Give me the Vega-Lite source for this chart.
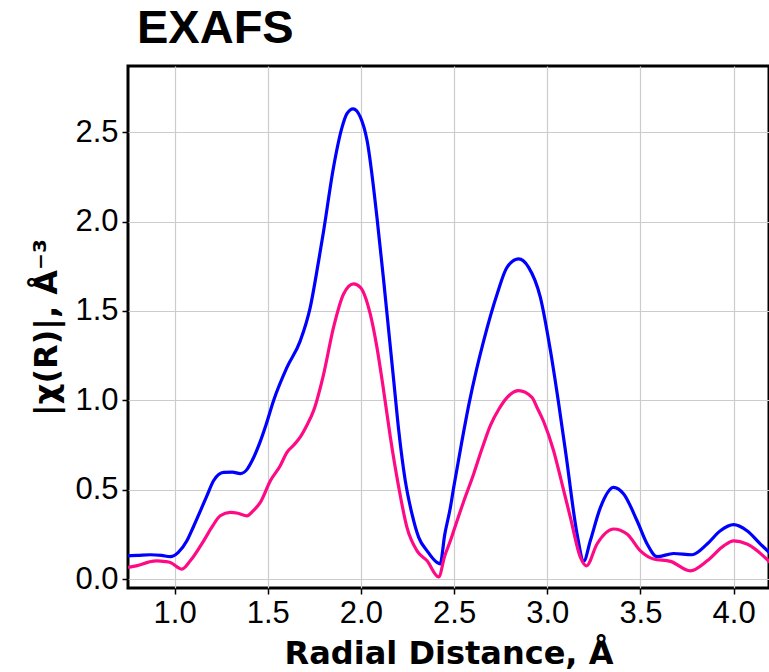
{
  "$schema": "https://vega.github.io/schema/vega-lite/v6.json",
  "autosize": {"type": "none"},
  "padding": {"left": 128, "top": 66, "right": 0, "bottom": 84},
  "width": 641,
  "height": 522,
  "background": "white",
  "title": {
    "text": "EXAFS",
    "anchor": "start",
    "frame": "group",
    "font": "Liberation Sans",
    "fontSize": 47,
    "fontWeight": "bold",
    "color": "#000",
    "offset": 13,
    "dx": 9
  },
  "config": {
    "view": {"stroke": "#000", "strokeWidth": 3},
    "axis": {
      "domain": false,
      "grid": true,
      "gridColor": "#cccccc",
      "gridWidth": 1.2,
      "tickColor": "#000",
      "tickSize": 6,
      "tickWidth": 1.5,
      "labelFont": "Liberation Sans",
      "labelFontSize": 31,
      "labelColor": "#000",
      "titleFont": "DejaVu Sans",
      "titleFontWeight": "bold",
      "titleColor": "#000"
    }
  },
  "data": {
    "values": [
      {"s": "a", "r": 0.75, "v": 0.13},
      {"s": "a", "r": 0.8, "v": 0.132},
      {"s": "a", "r": 0.87, "v": 0.136},
      {"s": "a", "r": 0.93, "v": 0.132},
      {"s": "a", "r": 0.977, "v": 0.125},
      {"s": "a", "r": 1.02, "v": 0.149},
      {"s": "a", "r": 1.066, "v": 0.214},
      {"s": "a", "r": 1.1, "v": 0.29},
      {"s": "a", "r": 1.138, "v": 0.38},
      {"s": "a", "r": 1.175, "v": 0.47},
      {"s": "a", "r": 1.209, "v": 0.55},
      {"s": "a", "r": 1.263, "v": 0.597},
      {"s": "a", "r": 1.31, "v": 0.598},
      {"s": "a", "r": 1.353, "v": 0.59},
      {"s": "a", "r": 1.39, "v": 0.615},
      {"s": "a", "r": 1.415, "v": 0.66},
      {"s": "a", "r": 1.46, "v": 0.77},
      {"s": "a", "r": 1.49, "v": 0.86},
      {"s": "a", "r": 1.531, "v": 0.998},
      {"s": "a", "r": 1.603, "v": 1.184},
      {"s": "a", "r": 1.675, "v": 1.334},
      {"s": "a", "r": 1.728, "v": 1.52},
      {"s": "a", "r": 1.773, "v": 1.78},
      {"s": "a", "r": 1.8, "v": 1.949},
      {"s": "a", "r": 1.853, "v": 2.304},
      {"s": "a", "r": 1.899, "v": 2.528},
      {"s": "a", "r": 1.925, "v": 2.603},
      {"s": "a", "r": 1.958, "v": 2.63},
      {"s": "a", "r": 1.997, "v": 2.584},
      {"s": "a", "r": 2.033, "v": 2.453},
      {"s": "a", "r": 2.086, "v": 2.024},
      {"s": "a", "r": 2.122, "v": 1.67},
      {"s": "a", "r": 2.149, "v": 1.39},
      {"s": "a", "r": 2.176, "v": 1.11},
      {"s": "a", "r": 2.203, "v": 0.83},
      {"s": "a", "r": 2.238, "v": 0.55},
      {"s": "a", "r": 2.274, "v": 0.364},
      {"s": "a", "r": 2.31, "v": 0.233},
      {"s": "a", "r": 2.355, "v": 0.158},
      {"s": "a", "r": 2.408, "v": 0.093},
      {"s": "a", "r": 2.425, "v": 0.085},
      {"s": "a", "r": 2.45, "v": 0.25},
      {"s": "a", "r": 2.48, "v": 0.4},
      {"s": "a", "r": 2.498, "v": 0.513},
      {"s": "a", "r": 2.54, "v": 0.76},
      {"s": "a", "r": 2.58, "v": 0.98},
      {"s": "a", "r": 2.62, "v": 1.17},
      {"s": "a", "r": 2.659, "v": 1.334},
      {"s": "a", "r": 2.731, "v": 1.595},
      {"s": "a", "r": 2.784, "v": 1.744},
      {"s": "a", "r": 2.846, "v": 1.791},
      {"s": "a", "r": 2.9, "v": 1.744},
      {"s": "a", "r": 2.963, "v": 1.576},
      {"s": "a", "r": 3.017, "v": 1.278},
      {"s": "a", "r": 3.06, "v": 0.99},
      {"s": "a", "r": 3.1, "v": 0.7},
      {"s": "a", "r": 3.16, "v": 0.252},
      {"s": "a", "r": 3.196, "v": 0.1},
      {"s": "a", "r": 3.231, "v": 0.214},
      {"s": "a", "r": 3.285, "v": 0.4},
      {"s": "a", "r": 3.356, "v": 0.513},
      {"s": "a", "r": 3.41, "v": 0.476},
      {"s": "a", "r": 3.482, "v": 0.326},
      {"s": "a", "r": 3.536, "v": 0.196},
      {"s": "a", "r": 3.589, "v": 0.125},
      {"s": "a", "r": 3.678, "v": 0.143},
      {"s": "a", "r": 3.777, "v": 0.136},
      {"s": "a", "r": 3.858, "v": 0.196},
      {"s": "a", "r": 3.929, "v": 0.27},
      {"s": "a", "r": 4.0, "v": 0.304},
      {"s": "a", "r": 4.072, "v": 0.27},
      {"s": "a", "r": 4.144, "v": 0.196},
      {"s": "a", "r": 4.2, "v": 0.14},
      {"s": "b", "r": 0.75, "v": 0.065},
      {"s": "b", "r": 0.8, "v": 0.075},
      {"s": "b", "r": 0.86, "v": 0.095},
      {"s": "b", "r": 0.905, "v": 0.102},
      {"s": "b", "r": 0.95, "v": 0.098},
      {"s": "b", "r": 0.977, "v": 0.093},
      {"s": "b", "r": 1.04, "v": 0.056},
      {"s": "b", "r": 1.084, "v": 0.102},
      {"s": "b", "r": 1.156, "v": 0.214},
      {"s": "b", "r": 1.2, "v": 0.29},
      {"s": "b", "r": 1.245, "v": 0.354},
      {"s": "b", "r": 1.299, "v": 0.373},
      {"s": "b", "r": 1.34, "v": 0.368},
      {"s": "b", "r": 1.389, "v": 0.354},
      {"s": "b", "r": 1.42, "v": 0.38},
      {"s": "b", "r": 1.46, "v": 0.429},
      {"s": "b", "r": 1.514, "v": 0.55},
      {"s": "b", "r": 1.567, "v": 0.634},
      {"s": "b", "r": 1.603, "v": 0.709},
      {"s": "b", "r": 1.64, "v": 0.75},
      {"s": "b", "r": 1.675, "v": 0.795},
      {"s": "b", "r": 1.71, "v": 0.86},
      {"s": "b", "r": 1.746, "v": 0.942},
      {"s": "b", "r": 1.8, "v": 1.147},
      {"s": "b", "r": 1.853, "v": 1.408},
      {"s": "b", "r": 1.907, "v": 1.595},
      {"s": "b", "r": 1.961, "v": 1.651},
      {"s": "b", "r": 1.997, "v": 1.632},
      {"s": "b", "r": 2.05, "v": 1.483},
      {"s": "b", "r": 2.086, "v": 1.296},
      {"s": "b", "r": 2.122, "v": 1.054},
      {"s": "b", "r": 2.158, "v": 0.793},
      {"s": "b", "r": 2.203, "v": 0.513},
      {"s": "b", "r": 2.247, "v": 0.289},
      {"s": "b", "r": 2.301, "v": 0.158},
      {"s": "b", "r": 2.355, "v": 0.102},
      {"s": "b", "r": 2.417, "v": 0.012},
      {"s": "b", "r": 2.45, "v": 0.13},
      {"s": "b", "r": 2.48, "v": 0.214},
      {"s": "b", "r": 2.498, "v": 0.27},
      {"s": "b", "r": 2.55, "v": 0.43},
      {"s": "b", "r": 2.605, "v": 0.588},
      {"s": "b", "r": 2.65, "v": 0.73},
      {"s": "b", "r": 2.695, "v": 0.86},
      {"s": "b", "r": 2.74, "v": 0.95},
      {"s": "b", "r": 2.784, "v": 1.015},
      {"s": "b", "r": 2.846, "v": 1.054},
      {"s": "b", "r": 2.918, "v": 1.016},
      {"s": "b", "r": 2.945, "v": 0.96},
      {"s": "b", "r": 2.981, "v": 0.88},
      {"s": "b", "r": 3.034, "v": 0.718},
      {"s": "b", "r": 3.08, "v": 0.53},
      {"s": "b", "r": 3.124, "v": 0.345},
      {"s": "b", "r": 3.178, "v": 0.121},
      {"s": "b", "r": 3.21, "v": 0.074},
      {"s": "b", "r": 3.267, "v": 0.196},
      {"s": "b", "r": 3.356, "v": 0.28},
      {"s": "b", "r": 3.428, "v": 0.252},
      {"s": "b", "r": 3.5, "v": 0.158},
      {"s": "b", "r": 3.571, "v": 0.112},
      {"s": "b", "r": 3.661, "v": 0.099},
      {"s": "b", "r": 3.768, "v": 0.046},
      {"s": "b", "r": 3.858, "v": 0.102},
      {"s": "b", "r": 3.947, "v": 0.186},
      {"s": "b", "r": 4.0, "v": 0.214},
      {"s": "b", "r": 4.072, "v": 0.196},
      {"s": "b", "r": 4.2, "v": 0.09}
    ]
  },
  "mark": {"type": "line", "interpolate": "monotone", "strokeWidth": 3.2, "clip": true},
  "encoding": {
    "x": {
      "field": "r",
      "type": "quantitative",
      "scale": {"domain": [0.75, 4.19], "nice": false, "zero": false},
      "axis": {
        "title": "Radial Distance, Å",
        "titleFontSize": 32,
        "titlePadding": 10,
        "values": [1.0, 1.5, 2.0, 2.5, 3.0, 3.5, 4.0],
        "format": ".1f",
        "labelPadding": 4,
        "labelFlush": false
      }
    },
    "y": {
      "field": "v",
      "type": "quantitative",
      "scale": {"domain": [-0.05, 2.87], "nice": false, "zero": false},
      "axis": {
        "title": "|χ(R)|, Å⁻³",
        "titleFontSize": 32,
        "titlePadding": 11,
        "values": [0.0, 0.5, 1.0, 1.5, 2.0, 2.5],
        "format": ".1f",
        "labelPadding": 4
      }
    },
    "color": {
      "field": "s",
      "type": "nominal",
      "scale": {"domain": ["a", "b"], "range": ["#0000ff", "#ff0a85"]},
      "legend": null
    }
  }
}
